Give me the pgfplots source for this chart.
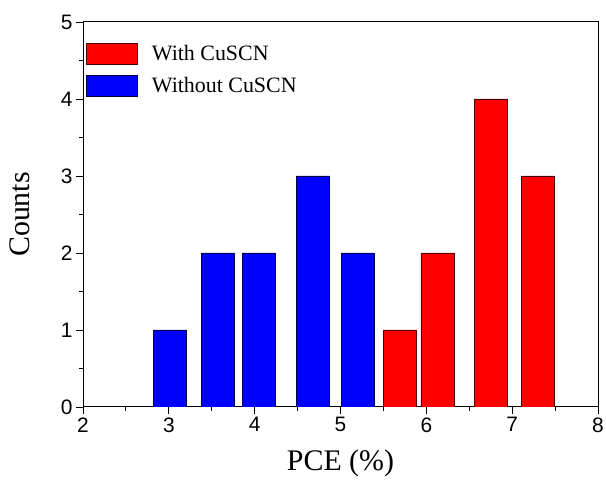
\documentclass[border=0pt]{standalone}
\usepackage{fontspec}
\setmainfont{Liberation Serif}
\newfontfamily\arial{Liberation Sans}
\usepackage{pgfplots}
\pgfplotsset{compat=1.18}
\begin{document}
\begin{tikzpicture}
\begin{axis}[
  name=ax,
  scale only axis,
  width=515bp, height=385bp,
  xmin=2, xmax=8, ymin=0, ymax=5,
  xtick={2,3,4,5,6,7,8},
  ytick={0,1,2,3,4,5},
  minor x tick num=1, minor y tick num=1,
  xtick pos=bottom, ytick pos=left,
  tick align=outside,
  major tick length=7bp, minor tick length=4bp,
  axis line style={line width=1pt},
  every tick/.style={black, line width=0.9pt},
  /pgf/number format/assume math mode=true,
  tick label style={font=\arial\fontsize{21}{21}\selectfont},
  xlabel={PCE (\%)}, ylabel={Counts},
  label style={font=\fontsize{30}{30}\selectfont},
  xlabel style={yshift=-11bp},
  ylabel style={yshift=24bp},
  legend style={draw=none, fill=none, at={(0,1)}, anchor=north west,
    xshift=3bp, yshift=-21bp, font=\fontsize{22}{22}\selectfont,
    row sep=10bp, inner sep=0pt},
  legend cell align=left,
  legend image code/.code={\draw[#1] (0bp,-10.5bp) rectangle (51bp,10.5bp); \path (63bp,0bp);},
]
\addplot[ybar, bar width=0.385, bar shift=0pt, fill=red, draw=black!70!red, line width=0.8pt]
  coordinates {(5.69,1) (6.13,2) (6.75,4) (7.30,3)};
\addlegendentry{With CuSCN}
\addplot[ybar, bar width=0.385, bar shift=0pt, fill=blue, draw=black!70!blue, line width=0.8pt]
  coordinates {(3.01,1) (3.57,2) (4.05,2) (4.68,3) (5.20,2)};
\addlegendentry{Without CuSCN}
\end{axis}
\pgfresetboundingbox
\path[use as bounding box] ([shift={(-83bp,-74bp)}]ax.south west) rectangle ([shift={(8bp,22bp)}]ax.north east);
\end{tikzpicture}
\end{document}
